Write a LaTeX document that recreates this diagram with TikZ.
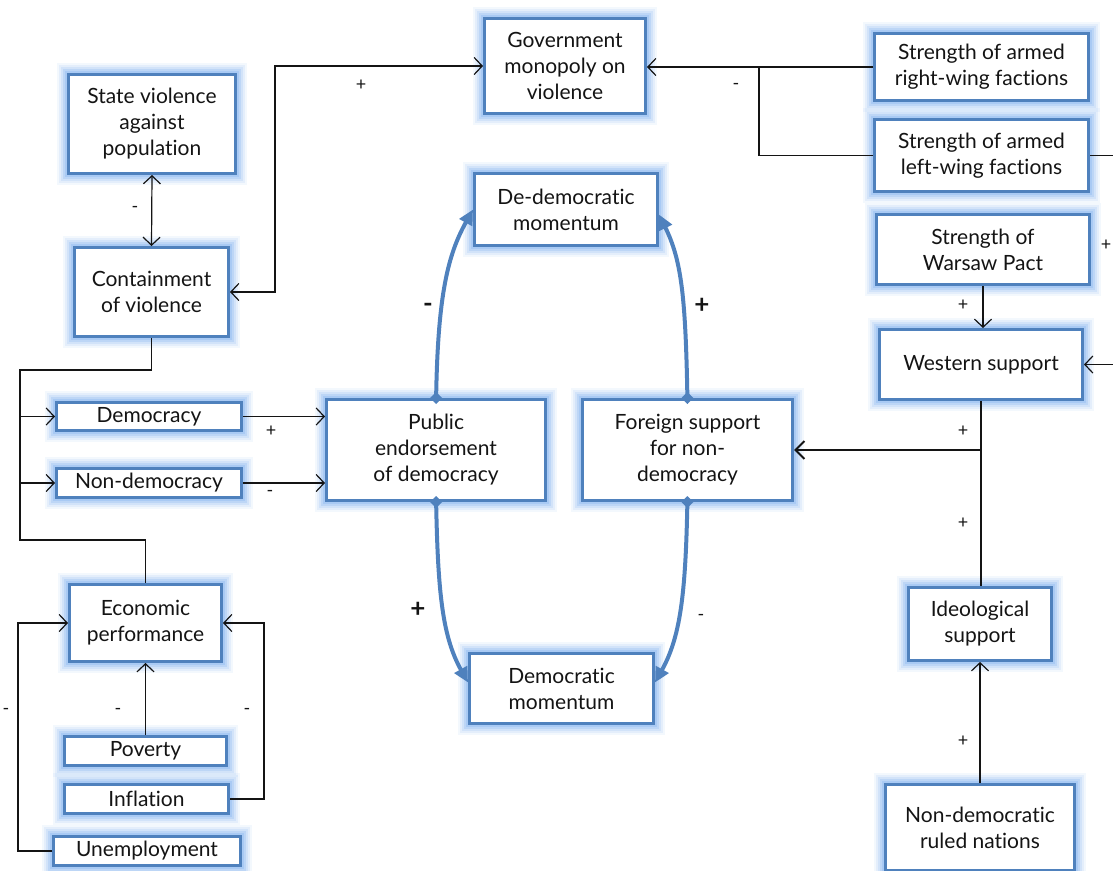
\documentclass[tikz,border=0pt]{standalone}
\usepackage{fontspec}
\setmainfont{Lato}[Ligatures={NoCommon,NoRare}]
\usetikzlibrary{arrows.meta,calc}

\definecolor{boxblue}{RGB}{79,129,189}
\definecolor{glowblue}{RGB}{140,184,240}
\definecolor{ink}{RGB}{20,20,20}

\newcommand{\boxfont}{\fontsize{21}{26}\selectfont}

\tikzset{
  box/.style={draw=boxblue, line width=3pt, fill=white, align=center,
    text=ink, font=\boxfont, inner sep=1pt,
    preaction={draw=glowblue, line width=23pt, draw opacity=0.10},
    preaction={draw=glowblue, line width=19pt, draw opacity=0.15},
    preaction={draw=glowblue, line width=15pt, draw opacity=0.20},
    preaction={draw=glowblue, line width=11pt, draw opacity=0.30},
    preaction={draw=glowblue, line width=7pt, draw opacity=0.40}},
  conn/.style={draw=ink, line width=1.2pt,
    arrows={-Straight Barb[length=8pt,width=17pt,line width=1.2pt]}},
  biconn/.style={draw=ink, line width=1.2pt,
    arrows={Straight Barb[length=8pt,width=17pt,line width=1.2pt]-Straight Barb[length=8pt,width=17pt,line width=1.2pt]}},
  plain/.style={draw=ink, line width=1.2pt},
  flow/.style={draw=boxblue, line width=4pt,
    arrows={Diamond[length=12pt,width=12pt]-Triangle[length=15pt,width=14pt]}},
  lbl/.style={text=ink, font=\fontsize{18}{20}\selectfont, inner sep=0pt},
  biglbl/.style={text=ink, font=\fontsize{26}{28}\selectfont\bfseries, inner sep=0pt},
}

\begin{document}
\begin{tikzpicture}[x=1pt,y=-1pt]
\useasboundingbox (0,0) rectangle (1113,870);

% boxes
\node[box, minimum width=161pt, minimum height=95pt] (gov) at (565,66) {Government\\monopoly on\\violence};
\node[box, minimum width=214pt, minimum height=67pt] (right) at (981.5,67) {Strength of armed\\right-wing factions};
\node[box, minimum width=214pt, minimum height=72pt] (left) at (981.5,155.5) {Strength of armed\\left-wing factions};
\node[box, minimum width=213pt, minimum height=70pt] (warsaw) at (983,249.5) {Strength of\\Warsaw Pact};
\node[box, minimum width=203pt, minimum height=70pt] (western) at (981,364.5) {Western support};
\node[box, minimum width=167pt, minimum height=99pt] (state) at (152,124) {State violence\\against\\population};
\node[box, minimum width=154pt, minimum height=89pt] (contain) at (151.5,292) {Containment\\of violence};
\node[box, minimum width=183pt, minimum height=72pt] (dedem) at (566,209.5) {De-democratic\\momentum};
\node[box, minimum width=219pt, minimum height=101pt] (public) at (436,450) {Public\\endorsement\\of democracy};
\node[box, minimum width=210pt, minimum height=101pt] (foreign) at (687.5,450) {Foreign support\\for non-\\democracy};
\node[box, minimum width=185pt, minimum height=28pt] (democ) at (149,416.5) {Democracy};
\node[box, minimum width=185pt, minimum height=29pt] (nondem) at (149,483) {Non-democracy};
\node[box, minimum width=152pt, minimum height=77pt] (econ) at (145.5,623) {Economic\\performance};
\node[box, minimum width=184pt, minimum height=70pt] (demmom) at (561.5,688.5) {Democratic\\momentum};
\node[box, minimum width=143pt, minimum height=73pt] (ideo) at (980,624) {Ideological\\support};
\node[box, minimum width=189pt, minimum height=86pt] (ndrule) at (980,827.5) {Non-democratic\\ruled nations};
\node[box, minimum width=162pt, minimum height=29pt] (poverty) at (145.5,751) {Poverty};
\node[box, minimum width=164pt, minimum height=29pt] (inflation) at (146.5,799) {Inflation};
\node[box, minimum width=187pt, minimum height=29pt] (unemp) at (147,851) {Unemployment};

% loose ends running past the frame
\coordinate (jL) at (759,67);
\coordinate (offL) at (1113,155.5);
\coordinate (offW) at (1113,364.5);
\coordinate (b1) at (20,370);
\coordinate (b2) at (20,540);

% violence cluster
\draw[biconn] (contain.east) -- ++(45,0) |- (gov.west);
\draw[biconn] (state.south) -- (contain.north);
\draw[conn] (right.west) -- (right.west -| gov.east);
\draw[plain] (left.west) -| (jL);
\draw[plain] (left.east) -- (offL);

% support chain on the right
\draw[conn] (offW) -- (western.east);
\draw[conn] (warsaw.south) -- (warsaw.south |- western.north);
\draw[plain] (western.south) -- (western.south |- ideo.north);
\draw[draw=ink, line width=2.2pt, arrows={-Straight Barb[length=9pt,width=18pt,line width=2pt]}]
  (western.south |- foreign.east) -- (foreign.east);
\draw[conn] (ndrule.north) -- (ideo.south);

% regime branch
\draw[plain] (contain.south) |- (b1) -- (b2) -| (econ.north);
\draw[conn] (b1 |- democ.west) -- (democ.west);
\draw[conn] (b1 |- nondem.west) -- (nondem.west);
\draw[conn] (democ.east) -- (democ.east -| public.west);
\draw[conn] (nondem.east) -- (nondem.east -| public.west);

% economy
\draw[conn] (unemp.west) -- ++(-34,0) |- (econ.west);
\draw[conn] (poverty.north) -- (econ.south);
\draw[conn] (inflation.east) -- ++(34,0) |- (econ.east);

% momentum loops
\draw[flow] ($(public.north)+(0,6)$) .. controls +(2,-110) and +(-25,45) .. (dedem.west);
\draw[flow] ($(foreign.north)+(0,6)$) .. controls +(-2,-110) and +(22,45) .. ($(dedem.east)+(0,5)$);
\draw[flow] ($(public.south)+(0,-6)$) .. controls +(2,100) and +(-25,-45) .. ($(demmom.west)+(0,-6)$);
\draw[flow] ($(foreign.south)+(0,-6)$) .. controls +(-2,100) and +(25,-45) .. ($(demmom.east)+(0,-6)$);

% polarity signs
\node[lbl] (s1) at (361,85) {+};
\node[lbl] (s2) at (135,209) {-};
\node[lbl] (s3) at (736,86) {-};
\node[lbl] (s4) at (1106,245) {+};
\node[lbl] (s5) at (963,305) {+};
\node[lbl] (s6) at (963,431) {+};
\node[lbl] (s7) at (963,523) {+};
\node[lbl] (s8) at (963,741) {+};
\node[lbl] (s9) at (271,431) {+};
\node[lbl] (s10) at (270,493) {-};
\node[lbl] (s11) at (6,711) {-};
\node[lbl] (s12) at (118,711) {-};
\node[lbl] (s13) at (247,711) {-};
\node[lbl] (s14) at (701,617) {-};
\node[biglbl] (s15) at (428,308) {-};
\node[biglbl] (s16) at (702,306) {+};
\node[biglbl] (s17) at (418,610) {+};
\end{tikzpicture}
\end{document}
